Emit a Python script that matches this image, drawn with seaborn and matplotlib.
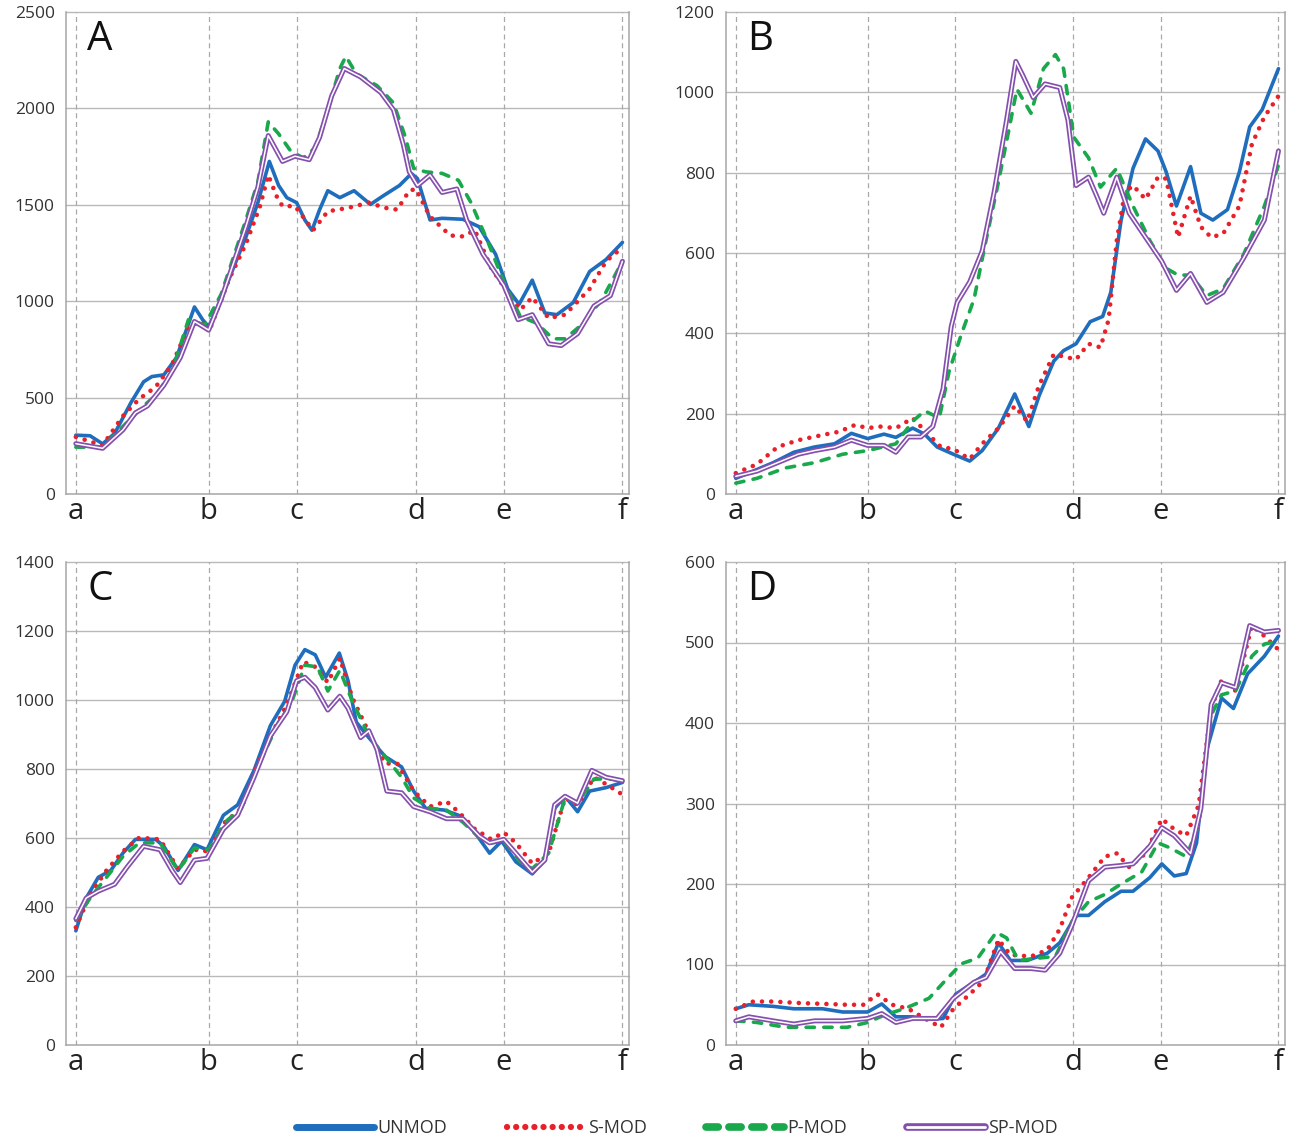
import matplotlib
matplotlib.use("Agg")
import matplotlib.pyplot as plt
import matplotlib.patheffects as pe
from matplotlib.lines import Line2D
import pandas as pd
import seaborn as sns

# ---------------- data ----------------
TICK_POS = [0, 24.3, 40.4, 62.2, 78.3, 100]
TICK_LABELS = ["a", "b", "c", "d", "e", "f"]
SERIES = ["UNMOD", "S-MOD", "P-MOD", "SP-MOD"]
PANEL_LETTERS = ["A", "B", "C", "D"]
Y_MAX = [2500, 1200, 1400, 600]
Y_STEP = [500, 200, 200, 100]

# Panel A
a_unmod_x = [0, 2.6, 4.9, 7.1, 10.1, 12.4, 13.9, 16.1, 18.4, 20.2, 21.7, 23.2, 24.3, 26.6, 28.8, 31.1, 33.3, 35.4, 37.1, 38.6, 40.4, 41.9, 43.2, 44.6, 46.1, 48.3, 50.9, 53.9, 56.2, 59.2, 61.4, 62.5, 64.8, 67.0, 70.8, 73.8, 76.8, 79.0, 81.1, 83.5, 85.8, 88.0, 91.0, 94.0, 97.0, 100]
a_unmod_y = [305, 302, 260, 314, 475, 582, 609, 618, 707, 850, 970, 904, 868, 1010, 1171, 1332, 1511, 1725, 1600, 1537, 1511, 1421, 1368, 1475, 1573, 1537, 1573, 1502, 1546, 1600, 1662, 1636, 1421, 1430, 1425, 1386, 1243, 1064, 984, 1109, 939, 930, 993, 1154, 1216, 1305]
a_smod_x = [0, 4.9, 8.6, 11.6, 14.6, 17.6, 20.6, 22.8, 24.7, 28.1, 31.1, 33.7, 35.2, 36.7, 37.8, 40.1, 43.4, 46.1, 49.8, 53.6, 56.6, 58.8, 61.0, 62.2, 64.8, 68.5, 70.8, 73.0, 76.0, 79.0, 81.3, 83.5, 86.5, 89.5, 94.0, 97.0, 100]
a_smod_y = [296, 252, 404, 493, 555, 671, 868, 895, 868, 1118, 1296, 1493, 1654, 1546, 1493, 1493, 1368, 1466, 1484, 1511, 1484, 1475, 1573, 1582, 1439, 1341, 1336, 1368, 1171, 1046, 955, 1020, 912, 930, 1064, 1207, 1279]
a_pmod_x = [0, 4.9, 8.6, 12.4, 14.6, 17.6, 20.6, 23.6, 26.6, 31.1, 33.3, 35.2, 37.1, 39.3, 41.6, 43.8, 46.1, 48.3, 49.4, 51.3, 55.1, 58.1, 60.3, 61.8, 64.0, 67.0, 70.0, 72.3, 75.3, 78.3, 81.3, 84.3, 87.3, 89.5, 92.5, 96.3, 100]
a_pmod_y = [243, 243, 350, 457, 511, 636, 904, 877, 1037, 1421, 1618, 1930, 1868, 1779, 1743, 1796, 1993, 2207, 2270, 2180, 2118, 2029, 1850, 1689, 1671, 1663, 1627, 1511, 1314, 1100, 921, 886, 805, 805, 877, 1011, 1207]
a_spmod_x = [0, 4.9, 8.6, 10.9, 13.1, 16.1, 19.1, 21.7, 24.3, 26.6, 31.1, 33.3, 35.2, 37.8, 40.1, 42.7, 44.6, 46.8, 49.1, 52.1, 55.8, 58.1, 59.9, 61.0, 62.5, 64.8, 67.0, 69.7, 71.5, 74.5, 78.3, 80.9, 83.5, 86.5, 88.8, 91.8, 94.8, 97.8, 100]
a_spmod_y = [261, 237, 332, 421, 457, 564, 707, 895, 850, 1011, 1386, 1591, 1859, 1725, 1752, 1734, 1850, 2064, 2207, 2163, 2082, 1993, 1814, 1671, 1600, 1654, 1564, 1582, 1421, 1243, 1082, 904, 930, 779, 770, 832, 975, 1029, 1207]

# Panel B
b_unmod_x = [0, 3.2, 6.9, 10.7, 14.5, 18.2, 21.3, 24.3, 27.3, 29.5, 32.6, 34.8, 37.1, 40.1, 43.1, 45.4, 48.4, 51.4, 54.0, 55.9, 58.6, 60.4, 62.7, 65.3, 67.6, 69.1, 71.0, 73.2, 75.5, 77.8, 79.3, 81.2, 83.8, 85.7, 87.9, 90.6, 92.8, 94.7, 97.0, 100]
b_unmod_y = [39, 57, 78, 104, 117, 125, 151, 138, 149, 141, 164, 149, 117, 99, 82, 108, 164, 249, 168, 245, 331, 357, 374, 429, 442, 502, 682, 811, 884, 854, 802, 717, 815, 699, 682, 708, 802, 914, 957, 1059]
b_smod_x = [0, 3.9, 7.7, 11.5, 16.0, 19.0, 22.0, 24.3, 26.5, 29.5, 32.6, 35.6, 37.8, 40.1, 43.1, 45.4, 48.4, 51.4, 53.7, 55.9, 58.6, 62.7, 65.0, 67.2, 68.7, 70.2, 71.7, 73.2, 75.5, 77.8, 79.3, 81.5, 83.8, 85.7, 87.6, 89.8, 92.8, 95.1, 97.4, 100]
b_smod_y = [52, 74, 117, 134, 147, 155, 172, 164, 168, 164, 189, 147, 117, 112, 87, 125, 164, 219, 181, 271, 348, 335, 374, 365, 434, 631, 751, 768, 734, 789, 785, 639, 742, 665, 639, 648, 717, 871, 939, 991]
b_pmod_x = [0, 3.9, 9.2, 14.5, 19.7, 24.3, 29.5, 32.6, 34.8, 37.5, 39.3, 41.6, 43.9, 46.1, 48.4, 50.3, 51.8, 54.4, 56.7, 58.9, 60.4, 62.3, 65.0, 67.2, 70.2, 73.2, 76.3, 79.3, 81.5, 83.8, 86.8, 89.8, 93.6, 97.4, 100]
b_pmod_y = [27, 39, 65, 78, 99, 108, 125, 181, 207, 189, 305, 399, 485, 631, 777, 905, 1008, 948, 1059, 1094, 1059, 888, 837, 764, 811, 717, 631, 562, 545, 545, 494, 511, 597, 717, 819]
b_spmod_x = [0, 3.9, 7.7, 11.5, 14.5, 18.2, 21.3, 24.3, 27.3, 29.5, 31.8, 34.1, 36.3, 38.2, 39.7, 40.8, 43.1, 45.4, 47.6, 49.9, 51.6, 52.9, 54.8, 57.0, 59.7, 61.2, 62.7, 65.0, 66.5, 67.8, 70.2, 72.5, 75.5, 78.5, 81.2, 83.8, 86.8, 89.8, 93.6, 97.4, 100]
b_spmod_y = [44, 57, 78, 99, 108, 117, 134, 121, 121, 104, 142, 142, 168, 262, 417, 477, 528, 605, 751, 931, 1077, 1042, 987, 1021, 1012, 931, 768, 789, 742, 699, 789, 699, 639, 579, 507, 549, 477, 502, 588, 682, 854]

# Panel C
c_unmod_x = [0, 1.9, 4.1, 6.4, 8.6, 10.9, 14.6, 16.1, 18.7, 21.7, 24.0, 27.0, 29.6, 32.6, 35.6, 38.2, 40.1, 41.9, 43.8, 45.7, 48.2, 49.8, 51.3, 53.6, 56.6, 59.6, 61.8, 64.0, 67.4, 70.0, 73.0, 75.7, 77.9, 80.5, 83.5, 85.8, 87.6, 89.5, 91.8, 94.0, 97.0, 100]
c_unmod_y = [331, 426, 486, 506, 556, 596, 596, 576, 506, 581, 566, 666, 696, 796, 926, 996, 1101, 1146, 1131, 1066, 1136, 1056, 936, 891, 836, 806, 736, 686, 681, 666, 616, 556, 591, 531, 496, 536, 686, 721, 676, 736, 746, 761]
c_smod_x = [0, 2.6, 5.6, 8.6, 11.6, 15.4, 18.7, 21.7, 24.3, 27.3, 30.3, 33.3, 36.3, 38.6, 41.6, 43.8, 46.1, 48.3, 50.6, 53.6, 56.6, 58.8, 61.8, 64.8, 67.8, 70.0, 73.0, 76.0, 78.3, 80.5, 83.5, 86.5, 89.5, 91.8, 94.8, 97.0, 100]
c_smod_y = [341, 436, 506, 561, 601, 596, 511, 566, 561, 646, 686, 816, 916, 986, 1111, 1096, 1051, 1121, 1006, 906, 816, 816, 736, 691, 706, 676, 626, 596, 616, 586, 526, 556, 716, 696, 776, 756, 726]
c_pmod_x = [0, 2.6, 5.6, 8.6, 11.6, 15.4, 18.7, 21.7, 24.3, 27.3, 30.3, 33.3, 37.1, 39.3, 41.9, 44.2, 46.1, 48.3, 50.6, 53.6, 56.6, 59.6, 61.8, 64.8, 67.8, 70.8, 73.8, 76.0, 78.3, 81.3, 83.5, 86.5, 89.5, 91.8, 94.8, 97.8, 100]
c_pmod_y = [361, 426, 486, 546, 586, 586, 506, 571, 566, 646, 686, 806, 936, 986, 1101, 1096, 1026, 1086, 996, 896, 836, 776, 716, 686, 681, 646, 601, 586, 591, 531, 511, 556, 716, 701, 771, 771, 766]
c_spmod_x = [0, 1.9, 4.1, 7.1, 9.4, 12.4, 15.4, 17.6, 19.1, 21.7, 24.0, 27.0, 29.6, 32.6, 35.6, 38.6, 40.4, 41.9, 43.8, 46.1, 48.3, 49.8, 52.1, 53.6, 55.1, 56.9, 59.6, 61.8, 64.8, 67.8, 70.8, 73.8, 75.7, 78.3, 80.5, 83.5, 85.8, 87.6, 89.5, 91.8, 94.4, 97.0, 100]
c_spmod_y = [366, 426, 446, 466, 516, 576, 566, 506, 471, 536, 541, 626, 666, 776, 896, 966, 1056, 1066, 1036, 971, 1011, 976, 891, 911, 856, 736, 731, 691, 676, 656, 656, 606, 586, 596, 556, 501, 536, 696, 721, 701, 796, 776, 766]

# Panel D
d_unmod_x = [0, 2.4, 6.9, 10.7, 16.0, 19.7, 24.3, 26.9, 29.5, 32.6, 36.3, 38.2, 40.5, 43.9, 46.1, 48.4, 50.6, 53.7, 57.4, 59.7, 62.7, 65.0, 68.0, 71.0, 73.2, 76.3, 78.5, 80.8, 83.0, 84.9, 86.8, 89.5, 91.7, 94.3, 97.4, 100]
d_unmod_y = [45, 50, 48, 45, 45, 41, 41, 51, 35, 35, 32, 33, 63, 78, 88, 127, 105, 105, 114, 127, 161, 161, 178, 191, 191, 208, 225, 210, 213, 251, 367, 431, 418, 461, 483, 508]
d_smod_x = [0, 3.2, 6.9, 12.2, 16.7, 20.5, 23.5, 26.1, 28.8, 31.8, 34.8, 37.8, 40.1, 43.1, 45.7, 48.4, 50.6, 54.4, 57.4, 59.7, 61.9, 65.0, 68.0, 70.2, 72.5, 75.5, 78.5, 80.8, 83.0, 85.3, 87.6, 89.5, 92.1, 95.1, 97.4, 100]
d_smod_y = [45, 54, 54, 52, 51, 50, 50, 63, 50, 45, 33, 22, 45, 63, 80, 131, 112, 110, 118, 144, 183, 208, 234, 238, 221, 238, 281, 268, 260, 298, 418, 453, 440, 521, 508, 491]
d_pmod_x = [0, 3.9, 9.2, 14.5, 20.5, 24.3, 27.3, 31.0, 35.6, 38.6, 41.6, 44.6, 48.0, 49.9, 52.1, 55.9, 58.9, 61.9, 65.0, 68.0, 71.0, 74.8, 77.8, 80.0, 83.0, 85.3, 87.6, 89.5, 92.1, 95.1, 97.4, 100]
d_pmod_y = [30, 28, 22, 22, 22, 28, 37, 45, 58, 80, 101, 108, 140, 133, 105, 108, 110, 153, 178, 187, 200, 215, 251, 245, 234, 273, 410, 435, 440, 483, 498, 502]
d_spmod_x = [0, 2.4, 6.9, 10.7, 14.5, 19.7, 24.3, 26.9, 29.5, 32.6, 37.1, 40.1, 43.9, 46.1, 48.8, 51.4, 54.4, 57.0, 59.7, 61.9, 65.0, 68.0, 71.0, 73.2, 76.3, 78.5, 80.8, 83.8, 85.7, 87.6, 89.5, 92.1, 94.7, 97.4, 100]
d_spmod_y = [30, 35, 30, 26, 30, 30, 33, 39, 28, 33, 33, 58, 78, 84, 116, 95, 95, 93, 114, 148, 204, 221, 223, 225, 247, 270, 260, 238, 294, 423, 450, 444, 521, 513, 515]

PANEL_DATA = [
    [(a_unmod_x, a_unmod_y), (a_smod_x, a_smod_y), (a_pmod_x, a_pmod_y), (a_spmod_x, a_spmod_y)],
    [(b_unmod_x, b_unmod_y), (b_smod_x, b_smod_y), (b_pmod_x, b_pmod_y), (b_spmod_x, b_spmod_y)],
    [(c_unmod_x, c_unmod_y), (c_smod_x, c_smod_y), (c_pmod_x, c_pmod_y), (c_spmod_x, c_spmod_y)],
    [(d_unmod_x, d_unmod_y), (d_smod_x, d_smod_y), (d_pmod_x, d_pmod_y), (d_spmod_x, d_spmod_y)],
]

# ---------------- style ----------------
BLUE = "#1f6dbd"
RED = "#e8202a"
GREEN = "#19a84b"
PURPLE = "#8550ad"
GRID = "#b9b9b9"

sns.set_theme(style="white")
plt.rcParams["font.family"] = ["Open Sans", "DejaVu Sans"]

W, H = 1292, 1137
fig = plt.figure(figsize=(W / 100, H / 100), dpi=100)

# axes rectangles in pixels: left, top, right, bottom
RECTS = [(66, 12, 629, 494), (726, 12, 1285, 494),
         (66, 562, 629, 1045), (726, 562, 1285, 1045)]


def style_line(line, name):
    if name == "S-MOD":
        line.set_dash_capstyle("round")
        line.set_solid_capstyle("round")
    elif name == "P-MOD":
        line.set_dash_capstyle("round")
    elif name == "SP-MOD":
        line.set_path_effects([pe.Stroke(linewidth=3.6, foreground=PURPLE), pe.Normal()])


LINE_KW = {
    "UNMOD": dict(color=BLUE, linewidth=2.6, linestyle="-"),
    "S-MOD": dict(color=RED, linewidth=3.3, linestyle=(0, (0.01, 2.0))),
    "P-MOD": dict(color=GREEN, linewidth=2.6, linestyle=(0, (2.3, 2.6))),
    "SP-MOD": dict(color="white", linewidth=1.1, linestyle="-"),
}

for i, (l, t, r, b) in enumerate(RECTS):
    ax = fig.add_axes([l / W, 1 - b / H, (r - l) / W, (b - t) / H])
    ax.set_xlim(-1.8, 101.2)
    ax.set_ylim(0, Y_MAX[i])
    yt = list(range(0, Y_MAX[i] + 1, Y_STEP[i]))
    ax.set_yticks(yt)
    ax.set_yticklabels([str(v) for v in yt])
    ax.set_xticks(TICK_POS)
    ax.set_xticklabels(TICK_LABELS)
    # gridlines
    for v in yt[1:]:
        ax.axhline(v, color=GRID, lw=1.0, zorder=0, clip_on=False)
    for p in TICK_POS:
        ax.axvline(p, color="#a8a8a8", lw=0.9, ls=(0, (4, 3)), zorder=0)
    ax.spines["top"].set_visible(False)
    for s in ["left", "bottom", "right"]:
        ax.spines[s].set_color("#a5a5a5")
        ax.spines[s].set_linewidth(1.1)
    ax.tick_params(axis="y", length=3, color="#a5a5a5", labelsize=12.5,
                   labelcolor="#333333", pad=5)
    ax.tick_params(axis="x", length=0, labelsize=21, labelcolor="#222222", pad=2)

    for name, (xs, ys) in zip(SERIES, PANEL_DATA[i]):
        df = pd.DataFrame({"x": xs, "y": ys})
        sns.lineplot(data=df, x="x", y="y", ax=ax, estimator=None, sort=False,
                     legend=False, **LINE_KW[name])
        style_line(ax.lines[-1], name)
    ax.set_xlabel("")
    ax.set_ylabel("")
    ax.text(0.038, 0.985, PANEL_LETTERS[i], transform=ax.transAxes, ha="left", va="top",
            fontsize=29, color="#111111")

# legend
handles = [
    Line2D([], [], color=BLUE, lw=5, solid_capstyle="round"),
    Line2D([], [], color=RED, lw=4.5, linestyle=(0, (0.01, 1.45)), dash_capstyle="round"),
    Line2D([], [], color=GREEN, lw=5.5, linestyle=(0, (1.6, 1.4)), dash_capstyle="round"),
    Line2D([], [], color="white", lw=2.0,
           path_effects=[pe.Stroke(linewidth=5.5, foreground=PURPLE, capstyle="round"), pe.Normal()]),
]
fig.legend(handles, SERIES, loc="center", bbox_to_anchor=(0.524, 1 - 1128 / H), ncol=4,
           frameon=False, fontsize=13, handlelength=4.3, handletextpad=0.2,
           columnspacing=3.3, labelcolor="#333333")

fig.savefig("out.png", dpi=100)
